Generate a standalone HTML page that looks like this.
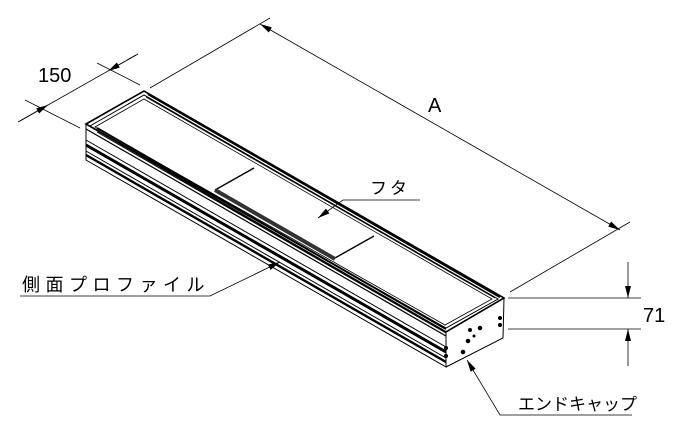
<!DOCTYPE html>
<html><head><meta charset="utf-8"><style>
html,body{margin:0;padding:0;background:#fff;}
svg{display:block;}
text{font-family:"Liberation Sans","Noto Sans CJK JP",sans-serif;fill:#000;}
</style></head><body>
<svg width="680" height="436" viewBox="0 0 680 436" xmlns="http://www.w3.org/2000/svg">
<defs>
<marker id="ar" viewBox="0 0 10 10" refX="10" refY="5" markerWidth="12" markerHeight="6" markerUnits="userSpaceOnUse" orient="auto-start-reverse" preserveAspectRatio="none"><path d="M0,0 L10,5 L0,10 z" fill="#000"/></marker>
</defs>
<g stroke="#000" fill="none">
<line x1="25" y1="100" x2="80" y2="128" stroke-width="0.8"/>
<line x1="97" y1="63" x2="140" y2="85" stroke-width="0.8"/>
<line x1="18" y1="122" x2="138" y2="54" stroke-width="0.8"/>
<line x1="20" y1="121" x2="48" y2="105" stroke-width="0.8" marker-end="url(#ar)"/>
<line x1="136" y1="55" x2="108" y2="71" stroke-width="0.8" marker-end="url(#ar)"/>
<line x1="150" y1="88" x2="270" y2="18" stroke-width="0.8"/>
<line x1="510" y1="292" x2="630" y2="222" stroke-width="0.8"/>
<line x1="260" y1="24" x2="620" y2="230" stroke-width="0.8" marker-start="url(#ar)" marker-end="url(#ar)"/>
<line x1="508" y1="298" x2="641" y2="298" stroke-width="0.8"/>
<line x1="508" y1="329" x2="641" y2="329" stroke-width="0.8"/>
<line x1="628" y1="262" x2="628" y2="298" stroke-width="0.8" marker-end="url(#ar)"/>
<line x1="628" y1="366" x2="628" y2="329" stroke-width="0.8" marker-end="url(#ar)"/>

<path d="M86,124 L144,91 L504,298 L446,332 Z" stroke-width="1.6"/>
<path d="M86,124 L86,160 L446,367 L446,332" stroke-width="1"/>
<path d="M504,298 L503,338 L446,367" stroke-width="1"/>
<path d="M90,126 L144,95 L498,299 L446,328 Z" stroke-width="1"/>
<path d="M95,127 L144,99 L492,299 L445,325 Z" stroke-width="0.8"/>
<line x1="148" y1="94" x2="500" y2="297" stroke-width="2.2"/>
<line x1="146" y1="97" x2="495" y2="298" stroke-width="1"/>
<line x1="97" y1="128" x2="446" y2="329" stroke-width="2"/>
<line x1="97" y1="132" x2="446" y2="333" stroke-width="1"/>
<line x1="215" y1="190" x2="254" y2="168" stroke-width="1.4"/>
<line x1="335" y1="258" x2="374" y2="236" stroke-width="1.4"/>
<line x1="215" y1="190" x2="335" y2="259" stroke-width="4" stroke="#333"/>
<line x1="86" y1="129" x2="446" y2="336" stroke-width="1.2"/>
<line x1="86" y1="140" x2="446" y2="347" stroke-width="1"/>
<line x1="86" y1="145" x2="446" y2="352" stroke-width="3"/>
<line x1="86" y1="151" x2="446" y2="358" stroke-width="1"/>
<line x1="86" y1="155" x2="446" y2="362" stroke-width="2.4"/>
<circle cx="470" cy="330" r="1.5" fill="#000"/>
<circle cx="480" cy="328" r="1.8" fill="#000"/>
<circle cx="468" cy="341" r="1.8" fill="#000"/>
<circle cx="463" cy="352" r="1.8" fill="#000"/>
<circle cx="500" cy="318" r="1.5" fill="#000"/>
<circle cx="500" cy="325" r="1.5" fill="#000"/>
<circle cx="446" cy="348" r="1.5" fill="#000"/>
<circle cx="446" cy="356" r="1.5" fill="#000"/>
<circle cx="474" cy="336" r="1" fill="#000"/>
<polyline points="420,200 343,200 318,218" stroke-width="0.8" marker-end="url(#ar)"/>
<polyline points="20,296 210,296 280,262" stroke-width="0.8" marker-end="url(#ar)"/>
<polyline points="632,415 500,415 467,360" stroke-width="0.8" marker-end="url(#ar)"/>
</g>
<text x="38" y="82" font-size="20">150</text>
<text x="428" y="112" font-size="20">A</text>
<text x="643" y="322" font-size="20">71</text>
<text x="370" y="194" font-size="17" letter-spacing="3">フタ</text>
<text x="22" y="291" font-size="18" letter-spacing="5.5">側面プロファイル</text>
<text x="518" y="410" font-size="17">エンドキャップ</text>
</svg>
</body></html>
